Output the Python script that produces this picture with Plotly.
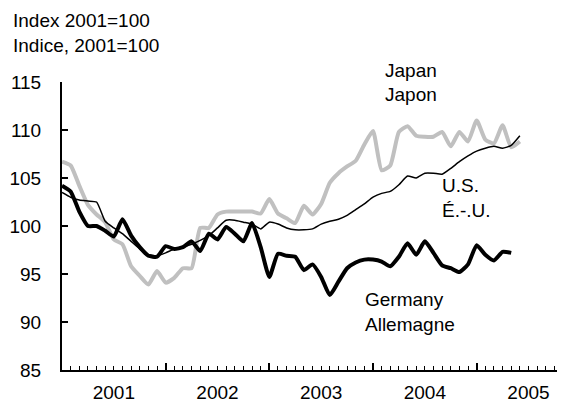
import plotly.graph_objects as go

# Monthly index values, January 2001 onwards (2001 = 100)
months = list(range(54))

us = [103.5, 103.0, 102.7, 102.6, 102.5, 100.5, 99.8, 99.2, 98.4, 97.6,
      97.0, 96.9, 97.2, 97.6, 97.8, 98.1, 98.5, 99.0, 99.8, 100.6,
      100.6, 100.4, 100.2, 99.7, 100.4, 100.2, 99.8, 99.6, 99.6, 99.7,
      100.2, 100.5, 100.7, 101.1, 101.7, 102.3, 103.0, 103.4, 103.6, 104.3,
      105.2, 105.0, 105.5, 105.5, 105.4, 106.0, 106.7, 107.3, 107.8, 108.1,
      108.3, 108.1, 108.4, 109.4]

japan = [106.7, 106.3, 104.2, 102.2, 101.2, 100.4, 98.6, 98.1, 95.8, 94.8,
         93.9, 95.3, 94.1, 94.6, 95.6, 95.6, 99.8, 99.8, 101.2, 101.5,
         101.5, 101.5, 101.5, 101.3, 102.8, 101.3, 100.8, 100.3, 102.1, 101.2,
         102.3, 104.5, 105.5, 106.2, 106.8, 108.5, 109.9, 105.8, 106.3, 109.8,
         110.4, 109.4, 109.3, 109.3, 109.8, 108.3, 109.8, 108.8, 111.0, 109.0,
         108.6, 110.5, 108.2, 108.8]

germany = [104.2, 103.6, 101.5, 100.0, 100.0, 99.5, 98.9, 100.7, 99.0, 97.8,
           96.9, 96.8, 97.9, 97.6, 97.8, 98.4, 97.4, 99.2, 98.6, 99.9,
           99.2, 98.4, 100.3, 97.8, 94.7, 97.1, 96.9, 96.8, 95.4, 96.0,
           94.7, 92.8, 94.2, 95.6, 96.2, 96.5, 96.5, 96.3, 95.8, 96.8,
           98.2, 97.0, 98.4, 97.2, 95.9, 95.6, 95.2, 96.0, 98.0, 97.0,
           96.4, 97.3, 97.2]

year_labels = ["2001", "2002", "2003", "2004", "2005"]
year_starts = [0, 12, 24, 36, 48]
year_mids = [6, 18, 30, 42, 54]

FONT = "Liberation Sans, Arial, sans-serif"
FS = 19
W, H = 561, 407
L, R, T, B = 62, 4, 82, 34

fig = go.Figure()
fig.add_trace(go.Scatter(x=months, y=japan, mode="lines",
                         line=dict(color="#c0c0c0", width=4, shape="spline", smoothing=0.5),
                         name="Japan"))
fig.add_trace(go.Scatter(x=months[:len(germany)], y=germany, mode="lines",
                         line=dict(color="#000000", width=4, shape="spline", smoothing=0.5),
                         name="Germany"))
fig.add_trace(go.Scatter(x=months, y=us, mode="lines",
                         line=dict(color="#000000", width=1.5, shape="spline", smoothing=0.5),
                         name="U.S."))
# invisible trace that carries the year-label axis
fig.add_trace(go.Scatter(x=[0], y=[100], xaxis="x2", mode="markers",
                         marker=dict(opacity=0), hoverinfo="skip", showlegend=False))

xr = [0, 57.3]
fig.update_layout(
    width=W, height=H,
    margin=dict(l=L, r=R, t=T, b=B),
    paper_bgcolor="white", plot_bgcolor="white",
    showlegend=False,
    font=dict(family=FONT, size=FS, color="#000000"),
    xaxis=dict(range=xr, tickmode="array", tickvals=year_starts,
               showticklabels=False, ticks="inside", ticklen=7, tickwidth=1.5,
               tickcolor="black", showline=True, linecolor="black", linewidth=2,
               showgrid=False, zeroline=False,
               minor=dict(dtick=1, tick0=0, ticks="inside", ticklen=4,
                          tickwidth=1, tickcolor="black")),
    xaxis2=dict(range=xr, overlaying="x", anchor="y", side="bottom",
                tickmode="array", tickvals=year_mids, ticktext=year_labels,
                ticks="", showline=False, showgrid=False, zeroline=False,
                ticklabelstandoff=9, tickfont=dict(size=FS)),
    yaxis=dict(range=[85, 115], dtick=5, tick0=85, ticks="inside", ticklen=6,
               tickwidth=1.5, tickcolor="black", showline=True, linecolor="black",
               linewidth=2, showgrid=False, zeroline=False,
               ticklabelstandoff=15, tickfont=dict(size=FS)),
)

pw = W - L - R
ph = H - T - B


def px(xp):
    return (xp - L) / pw


def py(yp):
    return (H - B - yp) / ph


texts = [
    ("Index 2001=100", 11, 20),
    ("Indice, 2001=100", 11, 45),
    ("Japan", 383, 70),
    ("Japon", 383, 95),
    ("U.S.", 440, 187),
    ("É.-.U.", 440, 212),
    ("Germany", 363, 302),
    ("Allemagne", 363, 327),
]
for t, xp, yp in texts:
    fig.add_annotation(text=t, xref="paper", yref="paper", x=px(xp), y=py(yp),
                       xanchor="left", yanchor="middle", showarrow=False,
                       font=dict(family=FONT, size=FS, color="black"))

fig.write_html("out.html")
